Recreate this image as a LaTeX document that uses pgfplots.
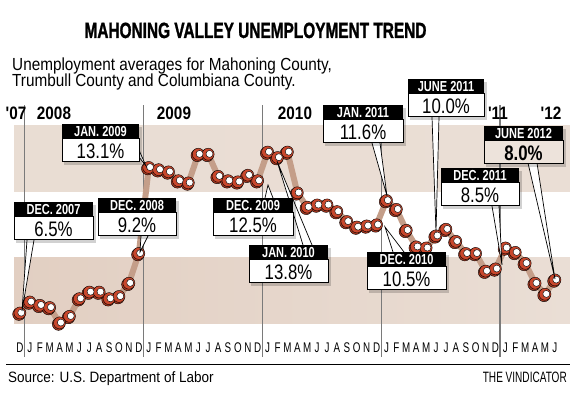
\documentclass[border=0pt]{standalone}
\usepackage{fontspec}
\usepackage{pgfplots}
\usepackage{pgfplotstable}
\pgfplotsset{compat=1.18}
\setmainfont{Liberation Sans}
\newfontfamily\titlef[FakeStretch=0.70,FakeBold=1.2]{Liberation Sans}
\newfontfamily\subf[FakeStretch=0.875]{Liberation Sans}
\newfontfamily\headf[FakeStretch=0.76]{Liberation Sans}
\newfontfamily\valf[FakeStretch=0.8]{Liberation Sans}
\newfontfamily\tickf[FakeStretch=0.7]{Liberation Sans}
\newfontfamily\yearf[FakeStretch=0.85]{Liberation Sans}
\newfontfamily\srcf[FakeStretch=0.9]{Liberation Sans}
\newfontfamily\vindf[FakeStretch=0.67]{Liberation Sans}
\definecolor{bandc}{HTML}{EADED5}
\definecolor{bandd}{HTML}{E2CFC2}
\definecolor{linec}{HTML}{C49E89}
\definecolor{markc}{HTML}{C9472C}
\definecolor{markd}{HTML}{A5361F}
\definecolor{vline}{HTML}{7A7A7A}
\definecolor{boxb}{HTML}{EDE3DB}

\pgfplotstableread{
i v
0 6.5
1 7.0
2 6.85
3 6.75
4 6.05
5 6.35
6 7.15
7 7.45
8 7.45
9 7.15
10 7.25
11 7.85
12 9.2
13 13.1
14 13.0
15 12.9
16 12.5
17 12.4
18 13.7
19 13.7
20 12.7
21 12.5
22 12.45
23 12.75
24 12.5
25 13.8
26 13.55
27 13.8
28 11.95
29 11.3
30 11.4
31 11.4
32 11.1
33 10.65
34 10.4
35 10.45
36 10.5
37 11.6
38 11.2
39 10.25
40 9.5
41 9.45
42 10.0
43 10.3
44 9.75
45 9.2
46 9.2
47 8.4
48 8.5
49 9.45
50 9.25
51 8.75
52 7.85
53 7.35
54 8.0
}\datatable

\newcommand{\pointer}[6]{%
  \filldraw[fill=white,draw=black,line width=0.7pt,line join=miter] (#1,#2) -- (#5,#6) -- (#3,#4);}
\newcommand{\callout}[5]{%
  \fill[black,opacity=0.18] (#1+2,#2+3) rectangle (#1+#3+3,#2+41);
  \fill[black] (#1,#2) rectangle (#1+#3,#2+15);
  \filldraw[fill=white,draw=black,line width=1pt] (#1,#2+15) rectangle (#1+#3,#2+38);
  \node[text=white,font=\headf\bfseries\fontsize{14.5}{14.5}\selectfont,anchor=base,inner sep=0pt] at (#1+#3/2,#2+12.5) {#4};
  \node[text=black,font=\valf\fontsize{21}{21}\selectfont,anchor=base,inner sep=0pt] at (#1+#3/2,#2+34.5) {#5};}

\begin{document}
\begin{tikzpicture}
\useasboundingbox (0,0) rectangle (582pt,399pt);
\begin{axis}[at={(14pt,64pt)}, anchor=south west, scale only axis,
  width=555.8pt, height=220.5pt,
  xmin=-0.6, xmax=55.5, ymin=5.5, ymax=15.5, clip=false,
  axis line style={draw=none}, ytick=\empty,
  xtick={0,...,54},
  xticklabels={D,J,F,M,A,M,J,J,A,S,O,N,D,J,F,M,A,M,J,J,A,S,O,N,D,J,F,M,A,M,J,J,A,S,O,N,D,J,F,M,A,M,J,J,A,S,O,N,D,J,F,M,A,M,J},
  major tick length=0pt,
  xticklabel style={font=\tickf\fontsize{14}{14}\selectfont, inner sep=0pt, anchor=base, yshift=-18pt},
]
\fill[left color=bandd, right color=bandc] (axis cs:-0.6,6) rectangle (axis cs:55.5,9);
\fill[left color=bandc!90!bandd, right color=bandc] (axis cs:-0.6,12) rectangle (axis cs:55.5,15);
\foreach \xx in {0.45,12.45,24.45,36.45,48.45} {
  \edef\tmp{\noexpand\draw[vline,line width=1.1pt] (axis cs:\xx,15.93) -- (axis cs:\xx,4.5);}\tmp
}
\addplot[linec, line width=6pt, line join=round, no marks] table[x=i,y=v] {\datatable};
\addplot[only marks, mark=*, mark size=6.3pt, mark options={fill=markd, draw=none, xshift=-1pt, yshift=-1.2pt}] table[x=i,y=v] {\datatable};
\addplot[only marks, mark=*, mark size=6pt, mark options={fill=markc, draw=none}] table[x=i,y=v] {\datatable};
\addplot[only marks, mark=*, mark size=3.5pt, mark options={fill=white, draw=none, xshift=1.3pt, yshift=0.3pt}] table[x=i,y=v] {\datatable};
\end{axis}

\begin{scope}[x=1pt,y=-1pt,shift={(0pt,399pt)}]
% title and subtitle
\node[font=\titlef\bfseries\fontsize{22}{22}\selectfont,anchor=base,inner sep=0pt] at (255.5,38) {MAHONING VALLEY UNEMPLOYMENT TREND};
\node[font=\subf\fontsize{17.5}{17.5}\selectfont,anchor=base west,inner sep=0pt] at (12,71) {Unemployment averages for Mahoning County,};
\node[font=\subf\fontsize{17.5}{17.5}\selectfont,anchor=base west,inner sep=0pt] at (12,87) {Trumbull County and Columbiana County.};
% year labels
\foreach \xx/\tt in {16/'07,54/2008,174/2009,295/2010,498/'11,551/'12} {
  \node[font=\yearf\bfseries\fontsize{18}{18}\selectfont,anchor=base,inner sep=0pt] at (\xx,120) {\tt};
}
% pointers
\pointer{27}{240}{34}{240}{22}{311}
\pointer{141}{236}{148}{236}{140}{252}
\pointer{139}{150}{139}{157}{146}{166}
\pointer{265}{198}{273}{198}{268}{185}
\pointer{303}{245}{312}{245}{277}{161}
\pointer{393}{252}{404}{252}{385}{227}
\pointer{372}{143}{380}{143}{387}{196}
\pointer{432}{117}{439}{117}{436}{232}
\pointer{492}{206}{499}{206}{502}{265}
\pointer{528}{163}{537}{163}{555}{279}
% callouts
\callout{14}{202}{79}{DEC. 2007}{6.5\%}
\callout{98}{198}{78}{DEC. 2008}{9.2\%}
\callout{62}{124}{77}{JAN. 2009}{13.1\%}
\callout{213}{198}{80}{DEC. 2009}{12.5\%}
\callout{249}{245}{79}{JAN. 2010}{13.8\%}
\callout{367}{252}{79}{DEC. 2010}{10.5\%}
\callout{323}{105}{80}{JAN. 2011}{11.6\%}
\callout{408}{79}{76}{JUNE 2011}{10.0\%}
\callout{441}{168}{78}{DEC. 2011}{8.5\%}
% June 2012 special
\fill[black,opacity=0.18] (486,129) rectangle (566,167);
\fill[black] (484,126) rectangle (563,141);
\filldraw[fill=boxb,draw=black,line width=1pt] (484,141) rectangle (563,164);
\node[text=white,font=\headf\bfseries\fontsize{14.5}{14.5}\selectfont,anchor=base,inner sep=0pt] at (523.5,138.5) {JUNE 2012};
\node[text=black,font=\valf\bfseries\fontsize{21}{21}\selectfont,anchor=base,inner sep=0pt] at (523.5,160.5) {8.0\%};
% bottom rule and credits
\draw[black,line width=1pt] (6,365) -- (570,365);
\node[font=\srcf\fontsize{15}{15}\selectfont,anchor=base west,inner sep=0pt] at (8,383) {Source: U.S. Department of Labor};
\node[font=\vindf\fontsize{15}{15}\selectfont,anchor=base east,inner sep=0pt] at (567,383) {THE VINDICATOR};
\end{scope}
\end{tikzpicture}
\end{document}
